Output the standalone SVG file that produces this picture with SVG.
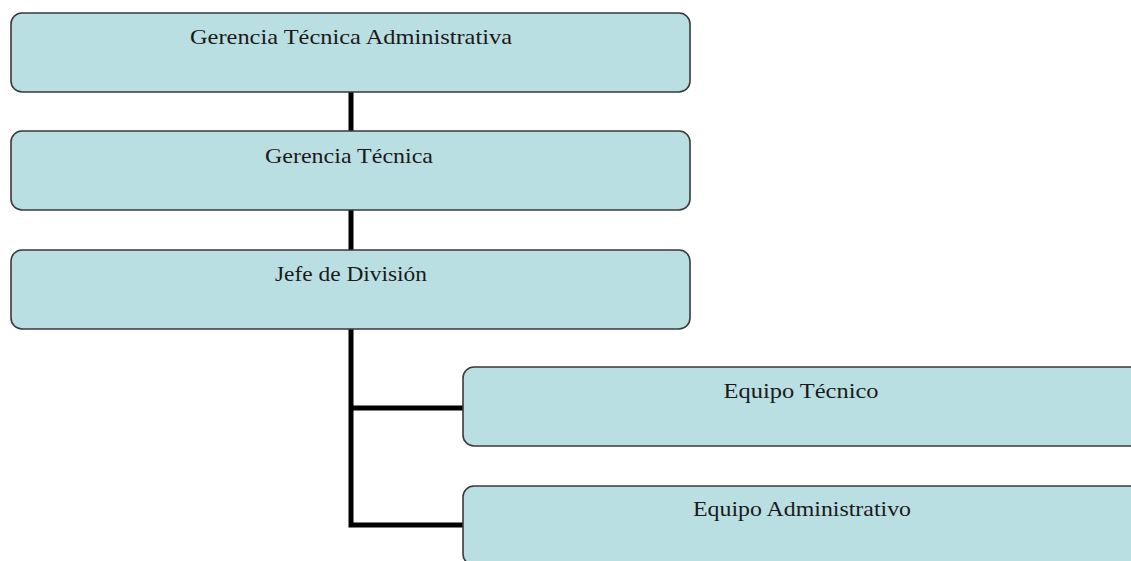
<svg xmlns="http://www.w3.org/2000/svg" width="1131" height="561" viewBox="0 0 1131 561">
<style>
.box{fill:#BADFE2;stroke:#3a3a3a;stroke-width:1.6}
.sh{fill:none;stroke:#9a9a9a;stroke-width:1.5}
.lbl{font-family:"Liberation Serif","Times New Roman",serif;font-size:22px;fill:#1a1a1a;text-anchor:middle}
.con{fill:none;stroke:#000;stroke-width:5;stroke-linejoin:miter}
</style>
<rect width="1131" height="561" fill="#fff"/>
<g id="connectors">
<line class="con" x1="351" y1="92" x2="351" y2="131"/>
<line class="con" x1="351" y1="210" x2="351" y2="250"/>
<polyline class="con" points="351,329 351,525 463,525"/>
<line class="con" x1="351" y1="408" x2="463" y2="408"/>
</g>
<g id="n1">
<rect class="box" x="11" y="13" width="679" height="79" rx="11"/>
<text class="lbl" x="351" y="44" textLength="322" lengthAdjust="spacingAndGlyphs">Gerencia Técnica Administrativa</text>
</g>
<g id="n2">
<rect class="box" x="11" y="131" width="679" height="79" rx="11"/>
<text class="lbl" x="349" y="163" textLength="168" lengthAdjust="spacingAndGlyphs">Gerencia Técnica</text>
</g>
<g id="n3">
<rect class="box" x="11" y="250" width="679" height="79" rx="11"/>
<text class="lbl" x="351" y="281" textLength="152" lengthAdjust="spacingAndGlyphs">Jefe de División</text>
</g>
<g id="n4">
<rect class="box" x="463" y="367" width="680" height="79" rx="11"/>
<text class="lbl" x="801" y="398" textLength="155" lengthAdjust="spacingAndGlyphs">Equipo Técnico</text>
</g>
<g id="n5">
<rect class="box" x="463" y="486" width="680" height="79" rx="11"/>
<text class="lbl" x="802" y="516" textLength="218" lengthAdjust="spacingAndGlyphs">Equipo Administrativo</text>
</g>
</svg>
